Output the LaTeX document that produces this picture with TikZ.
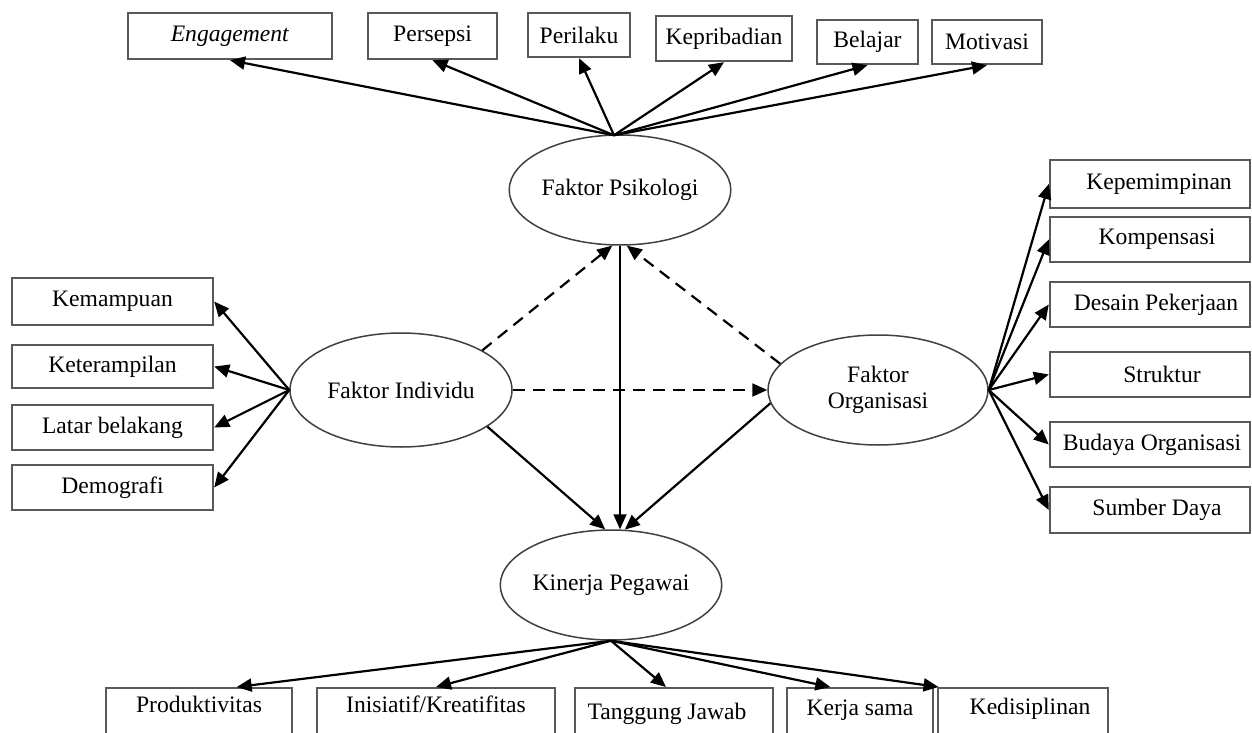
\documentclass[tikz,border=0pt]{standalone}
\usepackage{fontspec}
\setmainfont{Liberation Serif}
\usetikzlibrary{arrows.meta,calc,shapes.geometric}
\begin{document}
\begin{tikzpicture}[x=1pt,y=-1pt,
  font=\fontsize{23.6}{28}\selectfont,
  box/.style={draw=black!65,line width=2.4pt,rectangle,inner sep=0pt},
  bbox/.style={box,anchor=north,text depth=40pt},
  ell/.style={draw=black!75,line width=1.5pt,ellipse,inner sep=0pt,align=center},
  arr/.style={line width=2.2pt,-{Triangle[length=15pt,width=13pt]}},
  darr/.style={arr,dash pattern=on 12pt off 8pt},
  ]
\fill[white] (0,0) rectangle (1252,733);
\useasboundingbox (0,0) rectangle (1252,733);
\clip (0,0) rectangle (1252,733);

% ellipses
\node[ell,minimum width=220pt,minimum height=110pt] (ps) at (620,190) {Faktor Psikologi};
\node[ell,minimum width=222pt,minimum height=114pt] (ind) at (401,390) {Faktor Individu};
\node[ell,minimum width=220pt,minimum height=110pt] (org) at (878,390) {Faktor\\[-2pt]Organisasi};
\node[ell,minimum width=208pt,minimum height=110pt] (kin) at (611,585) {Kinerja Pegawai};

% top boxes
\node[box,minimum width=204pt,minimum height=46pt] (eng) at (230,36) {\textit{Engagement}};
\node[box,minimum width=129pt,minimum height=46pt] (per) at (432.5,36) {Persepsi};
\node[box,minimum width=102pt,minimum height=44pt] (pril) at (579,35) {Perilaku};
\node[box,minimum width=136pt,minimum height=45pt] (kpr) at (724,38.5) {Kepribadian};
\node[box,minimum width=101pt,minimum height=44pt] (bel) at (867.5,42) {Belajar};
\node[box,minimum width=110pt,minimum height=44pt] (mot) at (987,42) {Motivasi};

% left boxes
\node[box,minimum width=201pt,minimum height=47pt] (kem) at (112.5,301.5) {Kemampuan};
\node[box,minimum width=201pt,minimum height=43pt] (ket) at (112.5,366.5) {Keterampilan};
\node[box,minimum width=201pt,minimum height=45pt] (lat) at (112.5,427.5) {Latar belakang};
\node[box,minimum width=201pt,minimum height=45pt] (dem) at (112.5,487.5) {Demografi};

% right boxes
\node[box,minimum width=200pt,minimum height=48pt] (kpm) at (1150,184) {\hspace*{18pt}Kepemimpinan};
\node[box,minimum width=200pt,minimum height=45pt] (kom) at (1150,239.5) {\hspace*{14pt}Kompensasi};
\node[box,minimum width=200pt,minimum height=45pt] (des) at (1150,304.5) {\hspace*{12pt}Desain Pekerjaan};
\node[box,minimum width=200pt,minimum height=45pt] (str) at (1150,374.5) {\hspace*{24pt}Struktur};
\node[box,minimum width=200pt,minimum height=45pt] (bud) at (1150,444.5) {\hspace*{4pt}Budaya Organisasi};
\node[box,minimum width=200pt,minimum height=46pt] (sum) at (1150,510) {\hspace*{14pt}Sumber Daya};

% bottom boxes
\node[bbox,minimum width=186pt,text height=24pt] (prod) at (199,687) {Produktivitas};
\node[bbox,minimum width=238pt,text height=24pt] (ini) at (436,687) {Inisiatif/Kreatifitas};
\node[bbox,minimum width=198pt,text height=31pt] (tang) at (674,687) {\hspace*{-14pt}Tanggung Jawab};
\node[bbox,minimum width=146pt,text height=27pt] (kerja) at (860,687) {Kerja sama};
\node[bbox,minimum width=170pt,text height=26pt] (kedi) at (1023,687) {\hspace*{14pt}Kedisiplinan};

% top connectors
\coordinate (pstop) at ($(ps.north)+(-6,1)$);
\foreach \b in {eng,per,pril,kpr,bel,mot}
  \draw[arr] (pstop) -- (\b.south);

% left connectors
\foreach \b in {kem,ket,lat,dem}
  \draw[arr] (ind.west) -- (\b.east);

% right connectors
\foreach \b in {kpm,kom,des,str,bud,sum}
  \draw[arr] (org.east) -- (\b.west);

% bottom connectors
\draw[arr] (kin.south) -- ($(prod.north west)!0.7!(prod.north east)$);
\draw[arr] (kin.south) -- (ini.north);
\draw[arr] (kin.south) -- ($(tang.north west)!0.46!(tang.north east)$);
\draw[arr] (kin.south) -- ($(kerja.north west)!0.3!(kerja.north east)$);
\draw[arr] (kin.south) -- ($(kedi.north west)!0.01!(kedi.north east)$);

% central connectors
\draw[darr] (ind.26) -- (ps.262);
\draw[darr] (org.165) -- (ps.277);
\draw[darr] (ind.east) -- (org.west);
\draw[arr,line width=1.8pt] (ps.south) -- (ps.south |- kin.north);
\draw[arr] (ind.-23) -- (kin.96);
\draw[arr] (org.187) -- (kin.76);
\end{tikzpicture}
\end{document}
